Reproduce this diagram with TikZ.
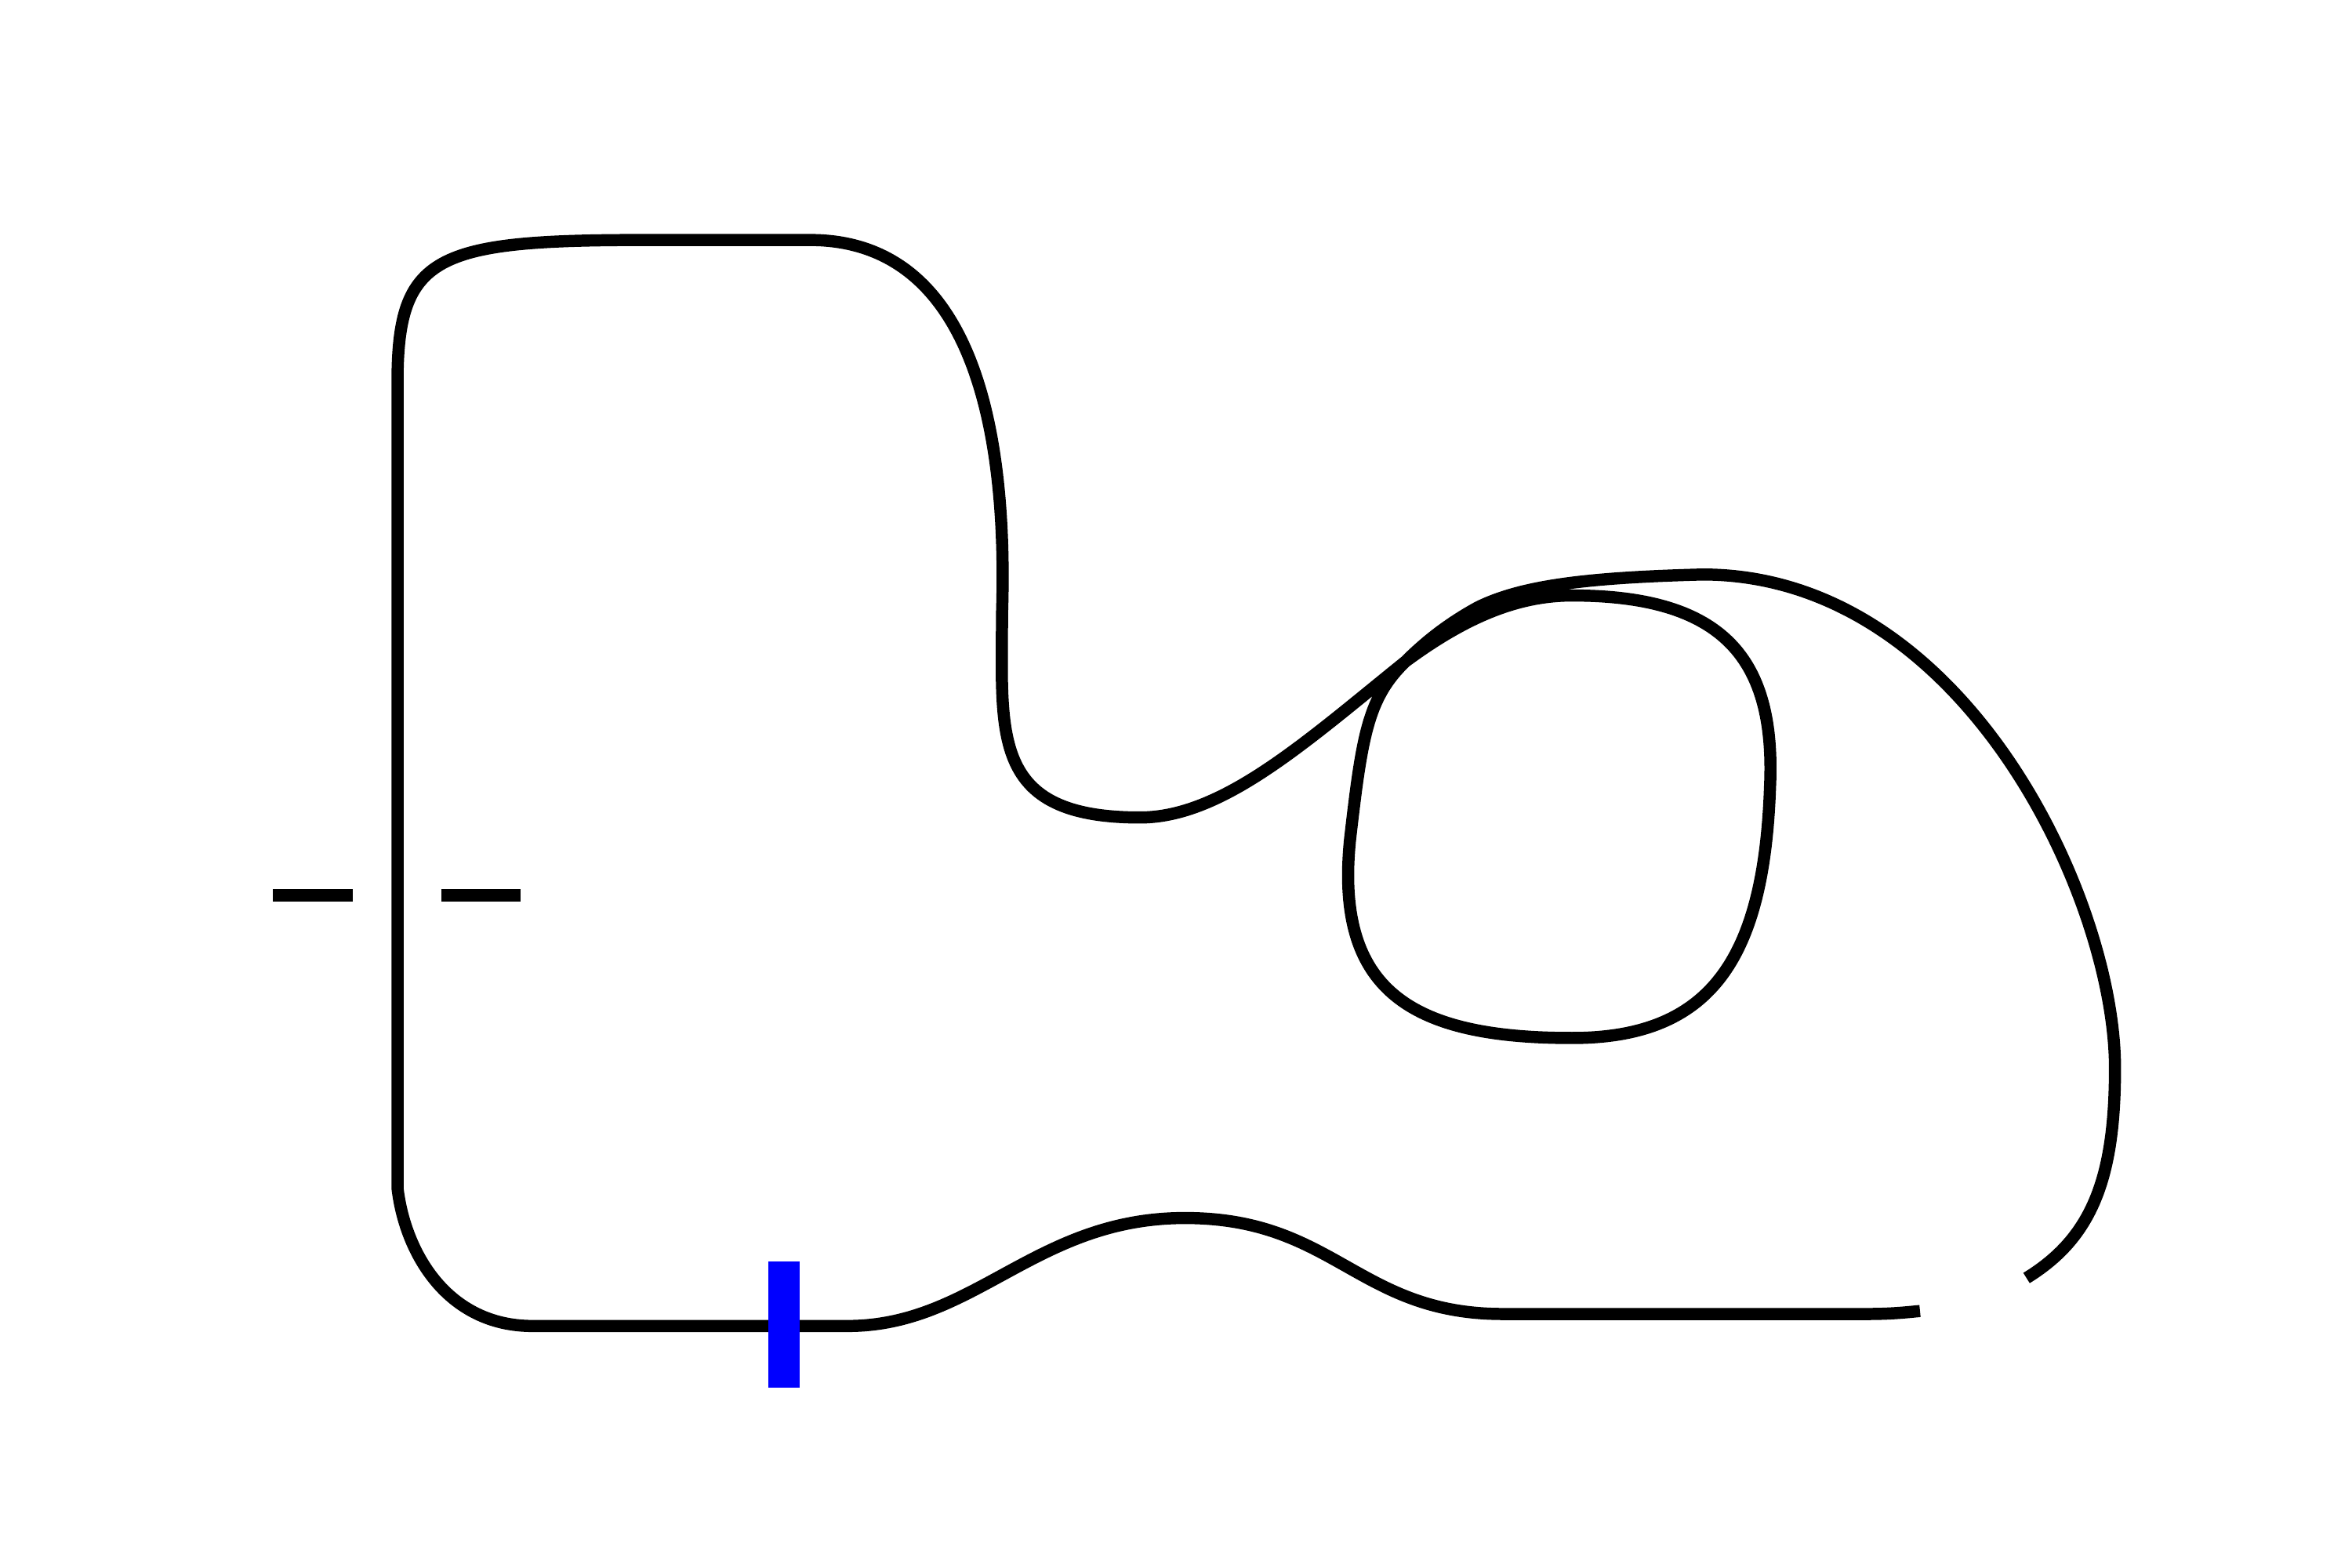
\documentclass[tikz,border=0pt]{standalone}
\usepackage{tikz}
\usetikzlibrary{positioning}

\begin{document}
\begin{tikzpicture}[x=0.01cm, y=-0.01cm,
    track/.style={draw=black, line width=2.3pt, line join=round},
    tick/.style={draw=black, line width=2.3pt},
    finish/.style={fill=blue, draw=none}]

    \useasboundingbox (0,0) rectangle (1568,1045);

    % Puntos clave
    \coordinate (gapA) at (1280,874);
    \coordinate (gapB) at (1351,852);
    \coordinate (cross) at (937,441);

    % Pista principal
    \draw[track] (gapB) .. controls (1395,825) and (1410,785) .. (1410,712)
        .. controls (1410,600) and (1310,383) .. (1135,383)
        .. controls (1060,385) and (1015,390) .. (985,405)
        .. controls (965,416) and (950,428) .. (cross)
        .. controls (912,465) and (908,490) .. (900,560)
        .. controls (890,660) and (940,692) .. (1048,692)
        .. controls (1140,692) and (1176,640) .. (1180,525)
        .. controls (1184,440) and (1150,397) .. (1048,397)
        .. controls (1010,397) and (975,413) .. (cross)
        .. controls (870,495) and (815,545) .. (760,545)
        .. controls (660,545) and (668,490) .. (668,410)
        .. controls (672,290) and (650,160) .. (540,160)
        -- (430,160)
        .. controls (290,160) and (265,170) .. (265,255)
        -- (265,792)
        .. controls (270,835) and (298,884) .. (355,884)
        -- (565,884)
        .. controls (650,884) and (690,812) .. (790,812)
        .. controls (890,812) and (905,876) .. (1002,876)
        -- (1245,876)
        .. controls (1260,876) and (1270,875) .. (gapA);

    % Marcas laterales
    \draw[tick] (182,597) -- (235,597);
    \draw[tick] (294,597) -- (347,597);

    % Linea de meta
    \fill[finish] (512,841) rectangle (533,925);

\end{tikzpicture}
\end{document}
